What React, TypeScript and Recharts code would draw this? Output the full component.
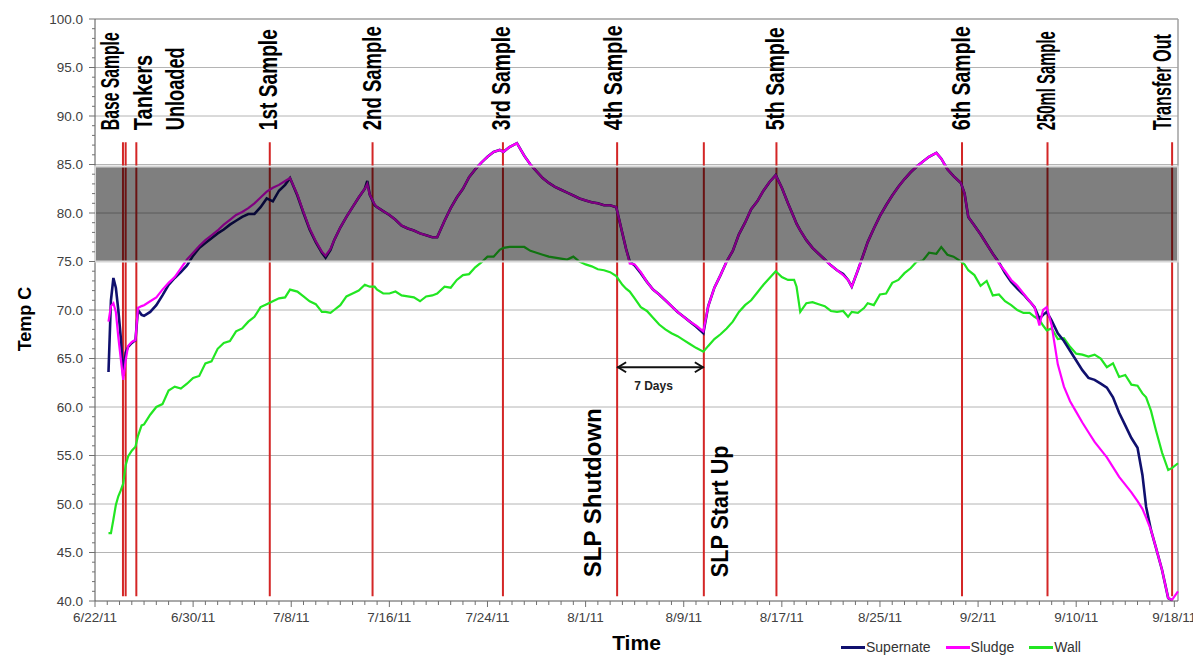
import React from "react";
import {
  LineChart,
  Line,
  XAxis,
  YAxis,
  ReferenceLine,
  ReferenceArea,
  Legend,
} from "recharts";

// time axis: days since 6/22/11
const days = [
  1.1, 1.3, 1.5, 1.7, 1.9, 2.1, 2.3, 2.5, 2.7, 3.0,
  3.3, 3.5, 3.8, 4.0, 4.5, 5.0, 5.5, 6.0, 6.5, 7.0,
  7.5, 8.0, 8.5, 9.0, 9.5, 10.0, 10.5, 11.0, 11.5, 12.0,
  12.5, 13.0, 13.5, 14.0, 14.5, 15.0, 15.5, 15.9, 16.5, 17.0,
  17.5, 18.0, 18.5, 18.8, 19.2, 19.5, 20.0, 20.5, 21.0, 21.5,
  22.0, 22.2, 22.4, 22.8, 23.0, 23.5, 24.0, 24.5, 25.0, 25.5,
  26.0, 26.5, 27.0, 27.5, 27.9, 28.5, 29.0, 29.5, 30.0, 30.5,
  31.0, 31.5, 32.0, 32.5, 33.0, 33.3, 33.8, 34.4, 35.0, 35.5,
  36.0, 36.5, 37.0, 37.5, 38.0, 38.5, 39.0, 39.5, 40.0, 40.5,
  41.0, 41.5, 42.0, 42.5, 43.0, 43.3, 43.6, 44.0, 44.5, 45.0,
  45.5, 46.0, 46.5, 47.0, 47.5, 48.0, 48.5, 49.0, 49.6, 50.0,
  50.5, 51.0, 51.5, 52.0, 52.5, 53.0, 53.5, 54.0, 54.5, 55.0,
  55.5, 56.0, 56.5, 57.0, 57.2, 57.5, 58.0, 58.5, 59.0, 59.5,
  60.0, 60.5, 61.0, 61.4, 61.7, 62.2, 62.7, 63.0, 63.5, 64.0,
  64.5, 65.0, 65.5, 66.0, 66.5, 67.0, 67.5, 68.0, 68.6, 69.0,
  69.5, 70.0, 70.6, 70.9, 71.2, 71.7, 72.2, 72.7, 73.2, 73.7,
  74.2, 74.7, 75.2, 75.7, 76.2, 76.6, 77.0, 77.3, 77.6, 78.0,
  78.5, 79.0, 79.5, 80.0, 80.5, 81.0, 81.5, 82.0, 82.5, 83.0,
  83.5, 84.0, 84.5, 85.0, 85.4, 85.7, 86.1, 86.5, 87.0, 87.5,
  87.8, 88.3,
];

const supernate = [
  63.6, 71.0, 73.3, 72.3, 70.0, 67.2, 63.2, 65.6, 66.2, 66.6,
  66.9, 70.0, 69.5, 69.4, 69.8, 70.5, 71.5, 72.6, 73.3, 73.9,
  74.6, 75.6, 76.4, 76.9, 77.4, 77.9, 78.3, 78.8, 79.2, 79.6,
  79.9, 79.9, 80.6, 81.5, 81.2, 82.3, 82.9, 83.6, 81.8, 80.0,
  78.3, 77.0, 75.9, 75.4, 76.2, 77.2, 78.5, 79.6, 80.6, 81.6,
  82.5, 83.3, 81.9, 80.8, 80.6, 80.2, 79.8, 79.3, 78.7, 78.4,
  78.2, 77.9, 77.7, 77.5, 77.5, 79.2, 80.5, 81.6, 82.5, 83.7,
  84.5, 85.2, 85.8, 86.3, 86.5, 86.3, 86.8, 87.2, 85.9, 85.0,
  84.3, 83.6, 83.1, 82.7, 82.4, 82.1, 81.8, 81.5, 81.3, 81.1,
  81.0, 80.8, 80.8, 80.6, 77.9, 76.3, 75.0, 74.6, 73.8, 72.9,
  72.1, 71.6, 71.0, 70.4, 69.8, 69.3, 68.8, 68.3, 67.6, 70.4,
  72.3, 73.6, 75.0, 76.1, 77.8, 79.0, 80.4, 81.2, 82.3, 83.2,
  83.9, 82.6, 81.0, 79.5, 78.9, 78.2, 77.2, 76.4, 75.8, 75.2,
  74.6, 74.1, 73.7, 73.1, 72.4, 74.1, 75.9, 77.0, 78.4, 79.7,
  80.8, 81.8, 82.7, 83.5, 84.2, 84.8, 85.3, 85.8, 86.2, 85.6,
  84.5, 83.8, 83.1, 82.0, 79.6, 78.7, 77.8, 76.8, 75.8, 74.9,
  73.8, 72.9, 72.2, 71.6, 70.9, 70.3, 69.1, 69.5, 69.8, 68.9,
  67.6, 66.8, 65.8, 64.8, 63.8, 63.0, 62.8, 62.4, 62.0, 61.0,
  59.4, 58.1, 56.8, 55.8, 53.0, 49.7, 47.3, 45.5, 43.2, 40.3,
  40.1, null,
];

const sludge = [
  68.8, 70.4, 70.7, 69.8, 67.2, 65.0, 62.8, 64.8, 66.3, 66.7,
  66.9, 70.2, 70.4, 70.5, 70.9, 71.3, 72.1, 72.8, 73.4, 74.3,
  75.2, 75.9, 76.6, 77.2, 77.7, 78.2, 78.8, 79.3, 79.8, 80.1,
  80.5, 81.0, 81.6, 82.2, 82.6, 82.9, 83.3, 83.6, 81.9, 80.1,
  78.4, 77.1, 76.0, 75.6, 76.3, 77.2, 78.5, 79.6, 80.6, 81.6,
  82.5, 83.0, 81.9, 80.9, 80.6, 80.2, 79.8, 79.3, 78.7, 78.4,
  78.2, 77.9, 77.7, 77.5, 77.5, 79.2, 80.5, 81.6, 82.5, 83.7,
  84.5, 85.2, 85.8, 86.3, 86.5, 86.3, 86.8, 87.2, 85.9, 85.0,
  84.3, 83.6, 83.1, 82.7, 82.4, 82.1, 81.8, 81.5, 81.3, 81.1,
  81.0, 80.8, 80.8, 80.6, 77.9, 76.3, 74.8, 74.7, 73.9, 72.9,
  72.1, 71.6, 71.0, 70.4, 69.8, 69.3, 68.8, 68.4, 67.8, 70.4,
  72.3, 73.6, 75.0, 76.1, 77.8, 79.0, 80.4, 81.2, 82.3, 83.2,
  83.9, 82.6, 81.0, 79.5, 78.9, 78.2, 77.2, 76.4, 75.8, 75.2,
  74.6, 74.1, 73.6, 73.1, 72.4, 74.1, 75.9, 77.0, 78.4, 79.7,
  80.8, 81.8, 82.7, 83.5, 84.2, 84.8, 85.3, 85.8, 86.2, 85.6,
  84.5, 83.8, 83.1, 82.0, 79.6, 78.7, 77.8, 76.8, 75.8, 74.8,
  74.0, 73.1, 72.5, 71.7, 70.9, 70.3, 68.4, 70.0, 70.3, 68.4,
  64.4, 62.1, 60.6, 59.5, 58.4, 57.4, 56.4, 55.6, 54.8, 53.8,
  52.8, 52.0, 51.2, 50.3, 49.5, 48.6, 47.3, 45.5, 43.2, 40.3,
  40.1, 41.0,
];

const wall = [
  47.0, 47.0, 48.4, 49.9, 50.8, 51.4, 52.1, 54.0, 54.9, 55.5,
  55.9, 57.0, 58.1, 58.2, 59.2, 60.0, 60.3, 61.7, 62.1, 61.9,
  62.4, 63.0, 63.2, 64.5, 64.7, 66.0, 66.6, 66.8, 67.8, 68.1,
  68.8, 69.3, 70.3, 70.6, 70.9, 71.2, 71.3, 72.1, 71.9, 71.4,
  70.9, 70.6, 69.8, 69.8, 69.7, 70.0, 70.5, 71.4, 71.7, 72.0,
  72.6, 72.5, 72.4, 72.4, 72.1, 71.7, 71.7, 71.9, 71.5, 71.4,
  71.3, 70.9, 71.4, 71.5, 71.7, 72.4, 72.3, 73.1, 73.6, 73.7,
  74.4, 74.9, 75.5, 75.5, 76.2, 76.4, 76.5, 76.5, 76.5, 76.1,
  75.9, 75.7, 75.5, 75.4, 75.3, 75.2, 75.5, 75.0, 74.7, 74.5,
  74.2, 74.1, 73.9, 73.5, 72.6, 72.2, 71.9, 71.2, 70.3, 69.9,
  69.2, 68.5, 68.0, 67.6, 67.3, 66.9, 66.5, 66.1, 65.7, 66.3,
  67.0, 67.5, 68.1, 68.8, 69.8, 70.5, 71.0, 71.8, 72.6, 73.3,
  74.0, 73.4, 73.1, 73.1, 72.4, 69.8, 70.7, 70.8, 70.6, 70.4,
  69.9, 69.8, 69.9, 69.3, 69.8, 69.7, 70.2, 70.7, 70.5, 71.6,
  71.7, 72.8, 73.1, 73.8, 74.3, 75.0, 75.1, 75.9, 75.8, 76.5,
  75.7, 75.5, 75.0, 74.7, 74.1, 73.6, 72.5, 73.0, 71.5, 71.6,
  70.9, 70.5, 70.0, 69.7, 69.7, 69.3, 69.0, 68.4, 67.9, 68.1,
  67.0, 67.1, 66.2, 65.5, 65.4, 65.2, 65.4, 65.0, 64.1, 64.5,
  63.1, 63.3, 62.3, 62.2, 61.4, 61.0, 59.6, 57.6, 55.3, 53.5,
  53.7, 54.2,
];

// one label every 8 days
const xTickLabels = [
  "6/22/11", "6/30/11", "7/8/11", "7/16/11", "7/24/11", "8/1/11",
  "8/9/11", "8/17/11", "8/25/11", "9/2/11", "9/10/11", "9/18/11",
];
const yTickLabels = [40, 45, 50, 55, 60, 65, 70, 75, 80, 85, 90, 95, 100];

// event markers
const eventDays = [2.28, 2.5, 3.37, 14.25, 22.63, 33.26, 42.57, 49.64, 55.56, 70.69, 77.66, 87.82];
const eventTopLabels = [
  ["Base Sample"], [], ["Tankers", "Unloaded"], ["1st Sample"], ["2nd Sample"],
  ["3rd Sample"], ["4th Sample"], [], ["5th Sample"], ["6th Sample"],
  ["250ml Sample"], ["Transfer Out"],
];
const eventLowLabels = ["", "", "", "", "", "", "SLP Shutdown", "SLP Start Up", "", "", "", ""];

const targetBand = [75, 84.8];
const shutdownSpan = [42.57, 49.64];
const shutdownText = "7 Days";

const X_MAX = 88.3;
const SANS = "'Liberation Sans', Arial, Helvetica, sans-serif";

// text placement for the event labels: offset from the red line, size, horizontal squeeze
const labelLayout: Record<string, { dx: number; size: number; sx: number }> = {
  "Base Sample": { dx: -4, size: 26, sx: 0.605 },
  Tankers: { dx: 16, size: 26, sx: 0.772 },
  Unloaded: { dx: 48, size: 26, sx: 0.7 },
  "1st Sample": { dx: 7, size: 26, sx: 0.736 },
  "2nd Sample": { dx: 8, size: 26, sx: 0.713 },
  "3rd Sample": { dx: 7, size: 26, sx: 0.742 },
  "4th Sample": { dx: 5, size: 26, sx: 0.757 },
  "5th Sample": { dx: 8, size: 26, sx: 0.743 },
  "6th Sample": { dx: 8, size: 26, sx: 0.75 },
  "250ml Sample": { dx: 7, size: 26, sx: 0.571 },
  "Transfer Out": { dx: -1, size: 26, sx: 0.622 },
  "SLP Shutdown": { dx: -16, size: 24, sx: 1.0 },
  "SLP Start Up": { dx: 24, size: 24, sx: 0.9 },
};

const series = [
  { key: "wall", name: "Wall", color: "#22e622", width: 2.2 },
  { key: "supernate", name: "Supernate", color: "#10106e", width: 2.6 },
  { key: "sludge", name: "Sludge", color: "#ff00ff", width: 2.2 },
];
const legendOrder = ["supernate", "sludge", "wall"];

const rows = days.map((day, i) => ({
  day,
  supernate: supernate[i],
  sludge: sludge[i],
  wall: wall[i],
}));

const xTicks = Array.from({ length: 89 }, (_, i) => i);
const yTicks = Array.from({ length: 61 }, (_, i) => 40 + i);

const XTick = ({ x, y, payload }: any) => {
  const d = payload.value as number;
  const idx = d / 8;
  const major = Number.isInteger(idx);
  return (
    <g>
      <line x1={x} x2={x} y1={y} y2={y + (major ? 6 : 4)} stroke="#707070" />
      {major && (
        <text x={x} y={y + 21} textAnchor="middle" fontSize={13.5} fill="#404040" fontFamily={SANS}>
          {xTickLabels[idx]}
        </text>
      )}
    </g>
  );
};

const YTick = ({ x, y, payload }: any) => {
  const v = payload.value as number;
  const major = yTickLabels.includes(v);
  return (
    <g>
      <line x1={x - (major ? 6 : 3)} x2={x} y1={y} y2={y} stroke="#707070" />
      {major && (
        <text x={x - 12} y={y} dy="0.36em" textAnchor="end" fontSize={13.5} fill="#404040" fontFamily={SANS}>
          {v.toFixed(1)}
        </text>
      )}
    </g>
  );
};

// vertical bold caption, read bottom to top, starting at (x, y)
const rotated = (text: string, x: number, y: number) => {
  const s = labelLayout[text];
  return (
    <text
      key={text}
      x={0}
      y={0}
      transform={`translate(${x + s.dx},${y}) rotate(-90) scale(${s.sx},1)`}
      fontSize={s.size}
      fontWeight={700}
      fontFamily={SANS}
      fill="#000"
    >
      {text}
    </text>
  );
};

const eventLabel = (i: number) => (props: any) => {
  const vb = props.viewBox || {};
  const low = eventLowLabels[i];
  return (
    <g>
      {eventTopLabels[i].map((t) => rotated(t, vb.x, vb.y - 12))}
      {low && rotated(low, vb.x, vb.y + vb.height - 19)}
    </g>
  );
};

const spanLabel = (props: any) => {
  const { x, y, width } = props.viewBox || {};
  const x2 = x + width;
  return (
    <g>
      <path d={`M${x + 9},${y - 5} L${x + 1},${y} L${x + 9},${y + 5}`} fill="none" stroke="#111" strokeWidth={2} />
      <path d={`M${x2 - 9},${y - 5} L${x2 - 1},${y} L${x2 - 9},${y + 5}`} fill="none" stroke="#111" strokeWidth={2} />
      <text x={x + width / 2 - 7} y={y + 23} textAnchor="middle" fontSize={12} fontWeight={700} fill="#222" fontFamily={SANS}>
        {shutdownText}
      </text>
    </g>
  );
};

const LegendBox = () => (
  <div
    style={{
      display: "flex",
      alignItems: "center",
      fontFamily: SANS,
      fontSize: 14,
      color: "#333",
      lineHeight: "18px",
      whiteSpace: "nowrap",
    }}
  >
    {legendOrder.map((k) => {
      const s = series.find((e) => e.key === k)!;
      return (
        <span key={k} style={{ display: "inline-flex", alignItems: "center", marginRight: 15 }}>
          <span style={{ display: "inline-block", width: 24, height: 3, background: s.color, marginRight: 1 }} />
          {s.name}
        </span>
      );
    })}
  </div>
);

export default function App() {
  return (
    <>
      {/* last date label runs a few pixels past the plot's right edge */}
      <style>{`.recharts-surface { overflow: visible; }`}</style>
      <LineChart
        width={1185}
        height={648}
        data={rows}
        margin={{ top: 11, right: 15, left: 27, bottom: 25 }}
        style={{ fontFamily: SANS }}
      >
        <XAxis
          dataKey="day"
          type="number"
          domain={[0, X_MAX]}
          ticks={xTicks}
          interval={0}
          tickSize={0}
          tickMargin={0}
          tickLine={false}
          tick={<XTick />}
          height={30}
          axisLine={{ stroke: "#555" }}
          label={(p: any) => {
            const vb = p.viewBox || {};
            return (
              <text x={vb.x + vb.width / 2} y={vb.y + 49} textAnchor="middle" fontSize={21} fontWeight={700} fill="#000" fontFamily={SANS}>
                Time
              </text>
            );
          }}
        />
        <YAxis
          type="number"
          domain={[40, 100]}
          ticks={yTicks}
          interval={0}
          tickSize={0}
          tickMargin={0}
          tickLine={false}
          tick={<YTick />}
          width={60}
          axisLine={{ stroke: "#555" }}
          label={(p: any) => {
            const vb = p.viewBox || {};
            const cx = vb.x - 10;
            const cy = vb.y + vb.height / 2 + 9;
            return (
              <text
                x={cx}
                y={cy}
                transform={`rotate(-90 ${cx} ${cy})`}
                textAnchor="middle"
                dominantBaseline="central"
                fontSize={18}
                fontWeight={700}
                fill="#000"
                fontFamily={SANS}
              >
                Temp C
              </text>
            );
          }}
        />

        {yTickLabels.slice(1, -1).map((v) => (
          <ReferenceLine key={`g-${v}`} y={v} stroke="#b4b4b4" strokeWidth={1} />
        ))}
        <ReferenceLine y={100} stroke="#a0a0a0" strokeWidth={1.5} />
        <ReferenceLine x={X_MAX} stroke="#a0a0a0" strokeWidth={1.5} />

        {eventDays.map((d, i) => (
          <ReferenceLine
            key={`ev-${i}`}
            segment={[
              { x: d, y: 87.3 },
              { x: d, y: 40.5 },
            ]}
            stroke="#d42626"
            strokeWidth={2}
            label={eventTopLabels[i].length || eventLowLabels[i] ? eventLabel(i) : undefined}
          />
        ))}

        <ReferenceLine
          segment={[
            { x: shutdownSpan[0], y: 64.1 },
            { x: shutdownSpan[1], y: 64.1 },
          ]}
          stroke="#111"
          strokeWidth={1.8}
          label={spanLabel}
        />

        {series.map((s) => (
          <Line
            key={s.key}
            type="linear"
            dataKey={s.key}
            name={s.name}
            stroke={s.color}
            strokeWidth={s.width}
            dot={false}
            activeDot={false}
            isAnimationActive={false}
          />
        ))}

        <ReferenceArea
          x1={0}
          x2={X_MAX}
          y1={targetBand[0]}
          y2={targetBand[1]}
          fill="#000"
          fillOpacity={0.5}
          stroke="#d6d6d6"
          strokeWidth={2}
          zIndex={1200}
        />

        <Legend
          layout="horizontal"
          verticalAlign="middle"
          align="center"
          wrapperStyle={{ left: 833, top: 630, width: 320, height: 18 }}
          content={() => <LegendBox />}
        />
      </LineChart>
    </>
  );
}
